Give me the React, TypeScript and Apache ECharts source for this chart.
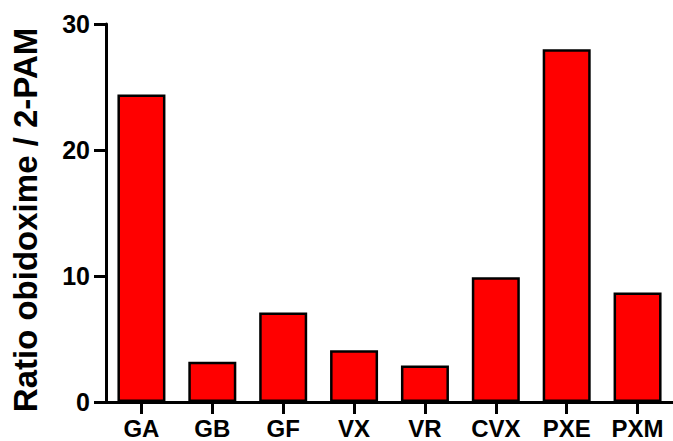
import React, { useEffect, useRef } from "react";
import * as echarts from "echarts";

const categories = ["GA", "GB", "GF", "VX", "VR", "CVX", "PXE", "PXM"];
const ratios = [24.4, 3.2, 7.1, 4.1, 2.9, 9.9, 28.0, 8.7];
const yTicks = [0, 10, 20, 30];
const yTitle = "Ratio obidoxime / 2-PAM";

export default function App() {
  const ref = useRef<HTMLDivElement>(null);
  useEffect(() => {
    if (!ref.current) return;
    const chart = echarts.init(ref.current, null, { renderer: "svg" });
    const font = "'Liberation Sans', Arial, sans-serif";
    chart.setOption({
      animation: false,
      backgroundColor: "#ffffff",
      grid: { left: 106, top: 24, width: 570, height: 378 },
      xAxis: {
        type: "category",
        data: categories,
        axisLine: { show: true, lineStyle: { color: "#000", width: 3 } },
        axisTick: { show: true, alignWithLabel: true, length: 12, lineStyle: { color: "#000", width: 3 } },
        axisLabel: {
          interval: 0,
          color: "#000",
          fontSize: 24,
          fontWeight: "bold",
          fontFamily: font,
          margin: 14,
        },
        splitLine: { show: false },
      },
      yAxis: {
        type: "value",
        min: yTicks[0],
        max: yTicks[yTicks.length - 1],
        interval: 10,
        name: yTitle,
        nameLocation: "middle",
        nameGap: 64,
        nameTextStyle: {
          color: "#000",
          fontSize: 33,
          fontWeight: "bold",
          fontFamily: font,
          padding: [0, 14, 0, 0],
        },
        axisLine: { show: true, lineStyle: { color: "#000", width: 3 } },
        axisTick: { show: true, length: 12, lineStyle: { color: "#000", width: 3 } },
        axisLabel: { color: "#000", fontSize: 25, fontWeight: "bold", fontFamily: font, margin: 16 },
        splitLine: { show: false },
      },
      series: [
        {
          type: "bar",
          data: ratios,
          barWidth: 48,
          itemStyle: { color: "#ff0000", borderColor: "#000", borderWidth: 2.5 },
        },
      ],
    });
    return () => chart.dispose();
  }, []);
  return (
    <div
      ref={ref}
      style={{ position: "absolute", left: 0, top: 0, width: 673, height: 441 }}
    />
  );
}
